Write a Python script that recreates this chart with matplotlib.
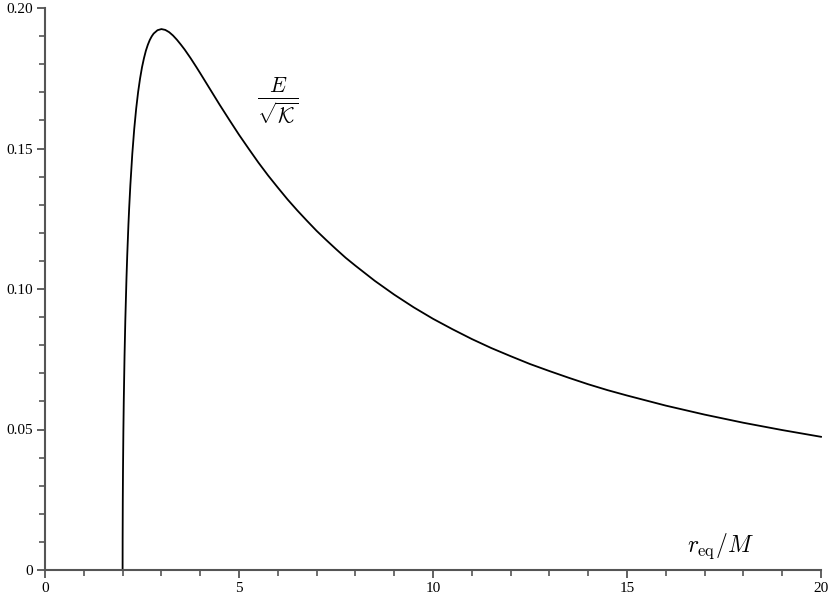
import matplotlib
matplotlib.use("Agg")
import matplotlib.pyplot as plt
from matplotlib.ticker import MultipleLocator, FixedFormatter, FixedLocator

plt.rcParams['font.family'] = 'Liberation Serif'
plt.rcParams['mathtext.fontset'] = 'cm'

# values
r = [2.0, 2.001, 2.005, 2.01, 2.02, 2.03, 2.05, 2.07, 2.1, 2.12, 2.15, 2.17, 2.2,
     2.25, 2.3, 2.35, 2.4, 2.45, 2.5, 2.55, 2.6, 2.65, 2.7, 2.75, 2.8, 2.9, 3.0,
     3.1, 3.2, 3.3, 3.4, 3.5, 3.6, 3.75, 3.9, 4.0, 4.25, 4.5, 4.75, 5.0, 5.25,
     5.5, 5.75, 6.0, 6.25, 6.5, 6.75, 7.0, 7.25, 7.5, 7.75, 8.0, 8.5, 9.0, 9.5,
     10.0, 10.5, 11.0, 11.5, 12.0, 12.5, 13.0, 13.5, 14.0, 14.5, 15.0, 16.0,
     17.0, 18.0, 19.0, 20.0]
e = [0.0, 0.0112, 0.0249, 0.0351, 0.0493, 0.0599, 0.0762, 0.0888, 0.1039, 0.1122,
     0.1229, 0.1290, 0.1370, 0.1481, 0.1570, 0.1642, 0.1701, 0.1749, 0.1789,
     0.1821, 0.1848, 0.1869, 0.1886, 0.1899, 0.1909, 0.1921, 0.1925, 0.1922,
     0.1914, 0.1902, 0.1887, 0.1870, 0.1852, 0.1822, 0.1790, 0.1768, 0.1712,
     0.1656, 0.1602, 0.1549, 0.1499, 0.1450, 0.1404, 0.1361, 0.1319, 0.1280,
     0.1243, 0.1207, 0.1174, 0.1142, 0.1111, 0.1083, 0.1029, 0.0980, 0.0935,
     0.0894, 0.0857, 0.0822, 0.0790, 0.0761, 0.0733, 0.0708, 0.0684, 0.0661,
     0.0640, 0.0621, 0.0585, 0.0553, 0.0524, 0.0498, 0.0474]

xticks = [0, 5, 10, 15, 20]
xlabels = ["0", "5", "10", "15", "20"]
yticks = [0, 0.05, 0.10, 0.15, 0.20]
ylabels = ["0", "0.05", "0.10", "0.15", "0.20"]

fig = plt.figure(figsize=(8.3, 5.99), dpi=100)
ax = fig.add_axes([45 / 830, 29 / 599, 776 / 830, 562 / 599])
ax.plot(r, e, color='black', lw=1.3, clip_on=False)
ax.set_xlim(0, 20)
ax.set_ylim(0, 0.2)

gray = '#555555'
for s in ['top', 'right']:
    ax.spines[s].set_visible(False)
for s in ['left', 'bottom']:
    ax.spines[s].set_color(gray)
    ax.spines[s].set_linewidth(1.5)

ax.xaxis.set_major_locator(FixedLocator(xticks))
ax.xaxis.set_major_formatter(FixedFormatter(xlabels))
ax.yaxis.set_major_locator(FixedLocator(yticks))
ax.yaxis.set_major_formatter(FixedFormatter(ylabels))
ax.xaxis.set_minor_locator(MultipleLocator(1))
ax.yaxis.set_minor_locator(MultipleLocator(0.01))
ax.tick_params(which='major', direction='out', length=6, width=1.3, color=gray,
               labelsize=11, pad=3)
ax.tick_params(which='minor', direction='out', length=4, width=1.2, color=gray)

ax.text(6.0, 0.167, r'$\frac{E}{\sqrt{\mathcal{K}}}$', fontsize=22,
        ha='center', va='center')
ax.text(17.4, 0.0085, r'$r_{\rm eq}/M$', fontsize=17, ha='center', va='center')

fig.savefig('out.png', dpi=100)
